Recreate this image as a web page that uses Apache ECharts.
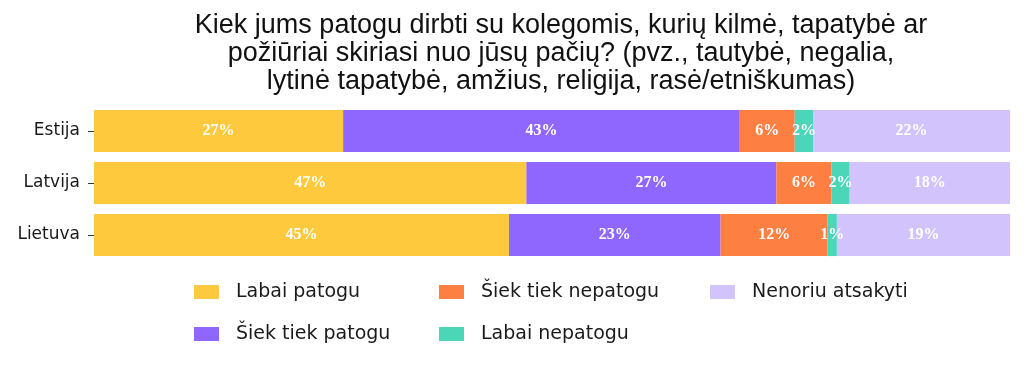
<!DOCTYPE html>
<html><head><meta charset="utf-8">
<script src="https://cdn.jsdelivr.net/npm/echarts@6/dist/echarts.min.js"></script>
<style>html,body{margin:0;padding:0;background:#fff}#c{width:1030px;height:367px}</style>
</head><body><div id="c"></div>
<script>
const categories = ['Estija', 'Latvija', 'Lietuva'];
const seriesNames = ['Labai patogu', 'Šiek tiek patogu', 'Šiek tiek nepatogu', 'Labai nepatogu', 'Nenoriu atsakyti'];
const labaiPatogu = [27.2, 47.2, 45.3];
const siekTiekPatogu = [43.3, 27.3, 23.1];
const siekTiekNepatogu = [6.0, 6.0, 11.7];
const labaiNepatogu = [2.0, 2.0, 1.0];
const nenoriuAtsakyti = [21.5, 17.5, 18.9];
const colors = ['#fec93c', '#8f66fe', '#fd7f41', '#4bd6b8', '#d3c3fd'];
const title = 'Kiek jums patogu dirbti su kolegomis, kurių kilmė, tapatybė ar\npožiūriai skiriasi nuo jūsų pačių? (pvz., tautybė, negalia,\nlytinė tapatybė, amžius, religija, rasė/etniškumas)';

const allData = [labaiPatogu, siekTiekPatogu, siekTiekNepatogu, labaiNepatogu, nenoriuAtsakyti];
const chart = echarts.init(document.getElementById('c'));
const legendText = {fontFamily: 'DejaVu Sans', fontSize: 19, lineHeight: 20, color: '#1a1a1a', padding: [0, 0, 0, 12]};
const mkLegend = (names, left) => ({
  orient: 'vertical', left: left, top: 282, data: names,
  itemWidth: 25, itemHeight: 14, itemGap: 22, icon: 'rect',
  textStyle: legendText, padding: 0
});
chart.setOption({
  animation: false,
  title: {
    text: title, left: 556, textAlign: 'center', top: 7,
    textStyle: {fontFamily: 'Liberation Sans', fontSize: 27, fontWeight: 'normal', color: '#111', lineHeight: 28}
  },
  legend: [
    mkLegend([seriesNames[0], seriesNames[1]], 194),
    mkLegend([seriesNames[2], seriesNames[3]], 439),
    mkLegend([seriesNames[4]], 710)
  ],
  grid: {left: 94, right: 20, top: 105, height: 156},
  xAxis: {type: 'value', min: 0, max: 100, show: false},
  yAxis: {
    type: 'category', data: categories, inverse: true,
    axisLine: {show: false},
    axisTick: {show: true, alignWithLabel: true, length: 6, lineStyle: {color: '#333'}},
    axisLabel: {fontFamily: 'DejaVu Sans', fontSize: 17, color: '#1a1a1a', margin: 14}
  },
  series: allData.map((d, i) => ({
    name: seriesNames[i], type: 'bar', stack: 'total', data: d,
    barWidth: '81%',
    itemStyle: {color: colors[i]},
    label: {
      show: true, position: 'inside',
      formatter: p => Math.round(p.value) + '%',
      fontFamily: 'Liberation Serif', fontWeight: 'bold', fontSize: 16, color: '#ffffff'
    }
  }))
});
</script></body></html>
